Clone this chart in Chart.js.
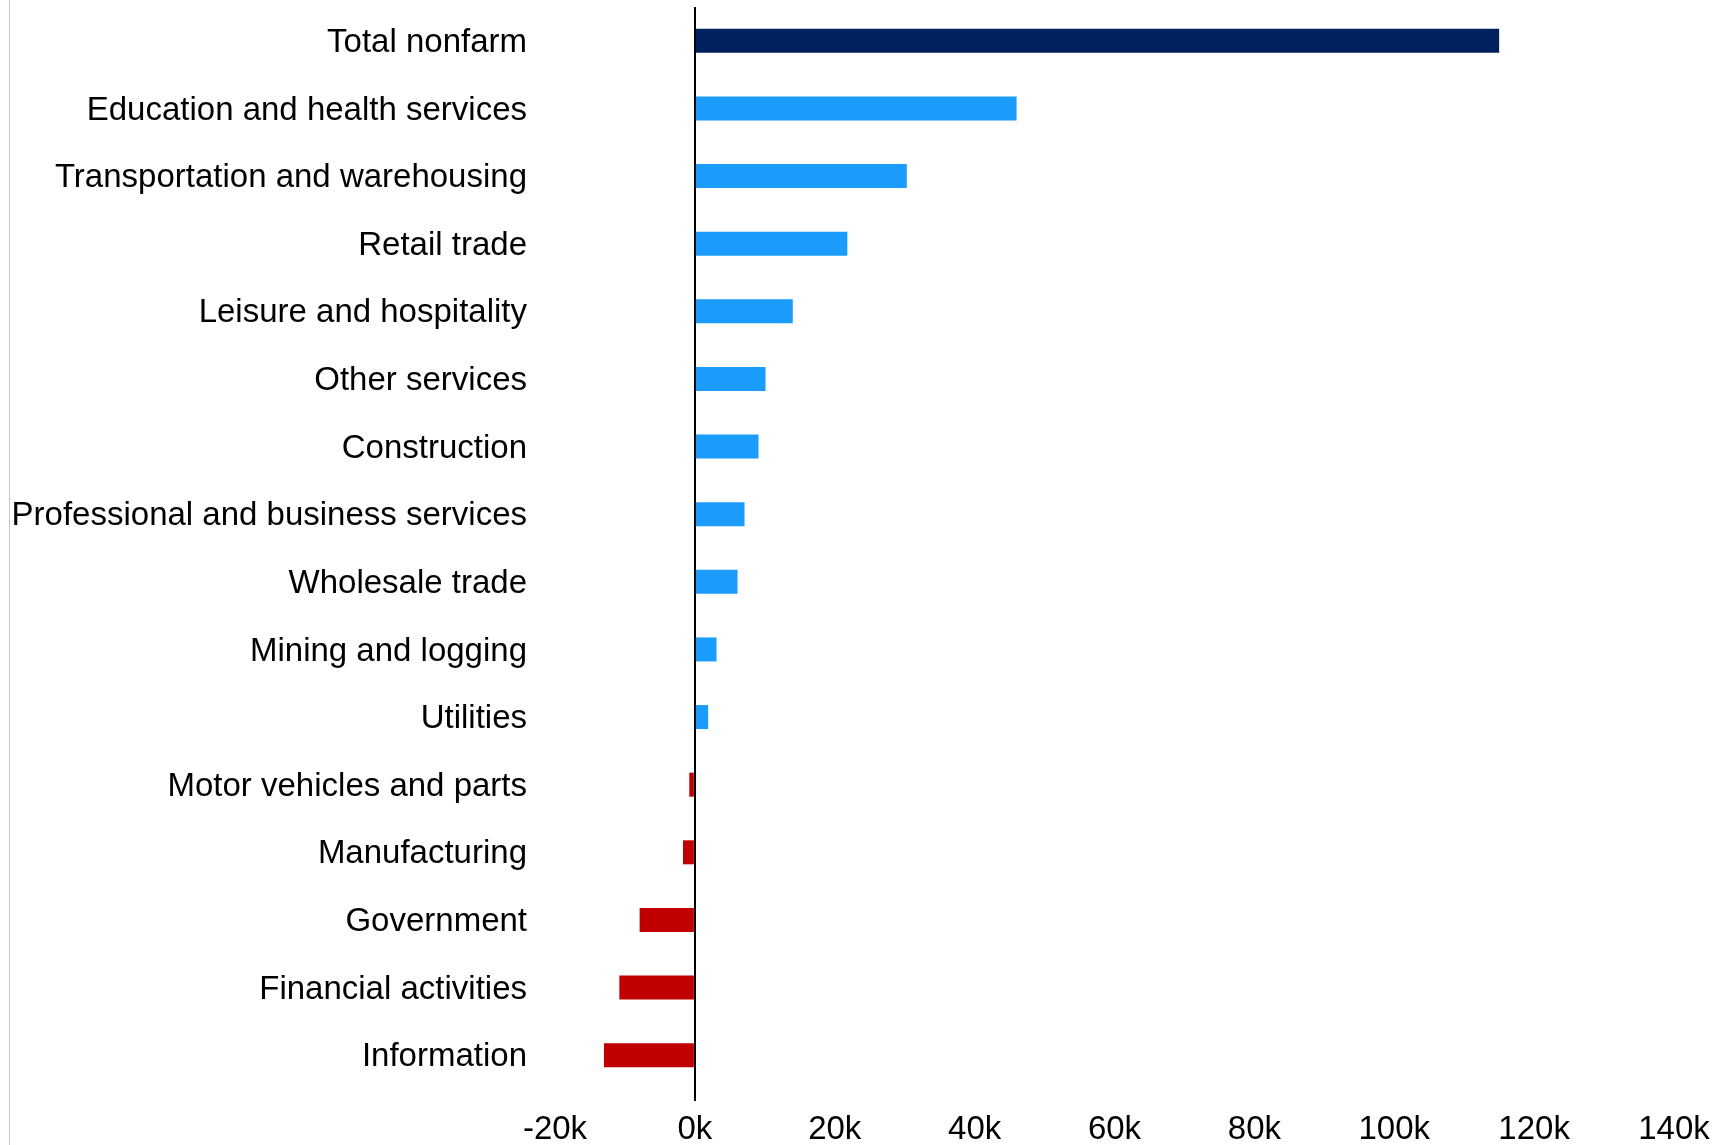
<!DOCTYPE html>
<html>
<head>
<meta charset="utf-8">
<script src="https://cdn.jsdelivr.net/npm/chart.js@4.4.1/dist/chart.umd.min.js"></script>
<style>
  html, body { margin: 0; padding: 0; background: #fff; overflow: hidden; }
  #wrap { position: relative; width: 1723px; height: 1145px; }
  #edge { position: absolute; left: 9px; top: 0; width: 1px; height: 1145px; background: #c8c8c8; }
  #myChart { display: block; }
</style>
</head>
<body>
<div id="wrap">
  <div id="edge"></div>
  <canvas id="myChart" width="1723" height="1145"></canvas>
</div>
<script>
const industries = [
  'Total nonfarm',
  'Education and health services',
  'Transportation and warehousing',
  'Retail trade',
  'Leisure and hospitality',
  'Other services',
  'Construction',
  'Professional and business services',
  'Wholesale trade',
  'Mining and logging',
  'Utilities',
  'Motor vehicles and parts',
  'Manufacturing',
  'Government',
  'Financial activities',
  'Information'
];
const jobChange = [115000, 46000, 30300, 21800, 14000, 10100, 9100, 7100, 6100, 3100, 1900, -800, -1700, -7900, -10800, -13000];
const xTicks = [-20000, 0, 20000, 40000, 60000, 80000, 100000, 120000, 140000];

const navy = '#002060';
const blue = '#1B9CFC';
const red = '#C00000';

const barColors = jobChange.map((v, i) => i === 0 ? navy : (v < 0 ? red : blue));

const labelFont = { family: "'Liberation Sans', Arial, sans-serif", size: 33, lineHeight: 1 };

const ctx = document.getElementById('myChart');

const chart = new Chart(ctx, {
  type: 'bar',
  data: {
    labels: industries,
    datasets: [{
      label: 'Change in jobs',
      data: jobChange,
      backgroundColor: barColors,
      borderWidth: 0,
      categoryPercentage: 1,
      barPercentage: 0.355
    }]
  },
  options: {
    indexAxis: 'y',
    responsive: false,
    animation: false,
    layout: { padding: { left: 0, right: 49, top: 7, bottom: 0 } },
    plugins: {
      legend: { display: false },
      tooltip: { enabled: false }
    },
    scales: {
      x: {
        min: xTicks[0],
        max: xTicks[xTicks.length - 1],
        afterBuildTicks: (scale) => { scale.ticks = xTicks.map(v => ({ value: v })); },
        afterFit: (scale) => { scale.height = 56; },
        grid: {
          drawOnChartArea: true,
          drawTicks: true,
          tickLength: 12,
          lineWidth: 2,
          color: (c) => (c.tick && c.tick.value === 0) ? '#000' : 'rgba(0,0,0,0)'
        },
        border: { display: false },
        ticks: {
          color: '#000',
          font: labelFont,
          padding: 12,
          maxRotation: 0,
          callback: (v) => (v / 1000) + 'k'
        }
      },
      y: {
        afterFit: (scale) => {
          scale.width = 555;
          scale.paddingTop = 0;
          scale.paddingBottom = 0;
        },
        grid: { display: false, drawTicks: false },
        border: { display: false },
        ticks: {
          color: '#000',
          font: labelFont,
          padding: 28,
          labelOffset: 2,
          autoSkip: false
        }
      }
    }
  }
});
</script>
</body>
</html>
